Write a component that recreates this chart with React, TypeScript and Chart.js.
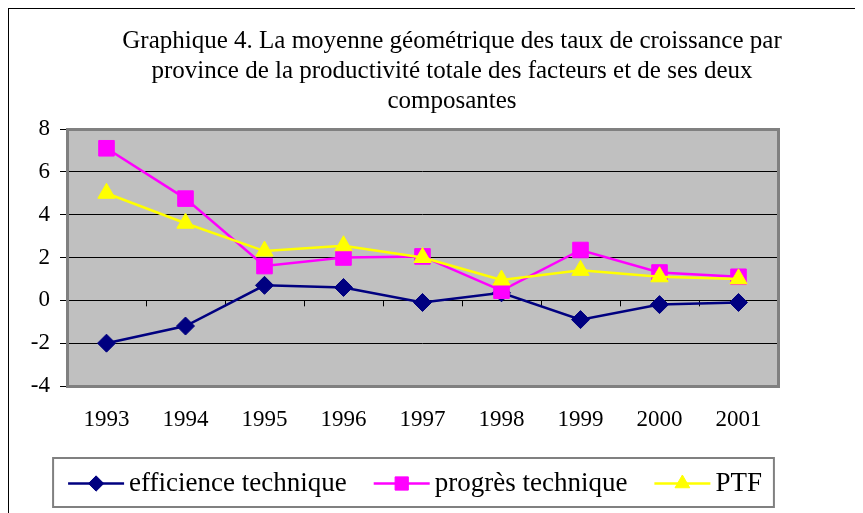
import React, { useEffect, useRef } from "react";
import { Chart, registerables } from "chart.js";
import { drawPoint } from "chart.js/helpers";

Chart.register(...registerables);

const years = ["1993", "1994", "1995", "1996", "1997", "1998", "1999", "2000", "2001"];
const efficience = [-2.0, -1.2, 0.7, 0.6, -0.1, 0.35, -0.9, -0.2, -0.1];
const progres = [7.1, 4.75, 1.6, 2.0, 2.05, 0.45, 2.35, 1.3, 1.1];
const ptf = [5.0, 3.6, 2.3, 2.55, 2.0, 0.95, 1.4, 1.1, 1.0];
const seriesNames = ["efficience technique", "progrès technique", "PTF"];
const titleLines = [
  "Graphique 4. La moyenne géométrique des taux de croissance par",
  "province de la productivité totale des facteurs et de ses deux",
  "composantes",
];
const yMin = -4;
const yMax = 8;
const yStep = 2;

const FONT = "'Liberation Serif', 'Times New Roman', Times, serif";

export default function App() {
  const ref = useRef<HTMLCanvasElement>(null);

  useEffect(() => {
    const canvas = ref.current!;

    const decor = {
      id: "decor",
      beforeDraw(chart: any) {
        const { ctx, chartArea: a } = chart;
        ctx.save();
        ctx.fillStyle = "#ffffff";
        ctx.fillRect(0, 0, chart.width, chart.height);
        // outer frame (top + left visible)
        ctx.strokeStyle = "#000000";
        ctx.lineWidth = 2;
        ctx.beginPath();
        ctx.moveTo(0, chart.height);
        ctx.lineTo(0, 0);
        ctx.lineTo(chart.width, 0);
        ctx.stroke();
        // plot background
        ctx.fillStyle = "#c0c0c0";
        ctx.fillRect(a.left, a.top, a.right - a.left, a.bottom - a.top);
        // title
        ctx.fillStyle = "#000000";
        ctx.font = `25px ${FONT}`;
        ctx.textAlign = "center";
        ctx.textBaseline = "middle";
        titleLines.forEach((t, i) => ctx.fillText(t, 444, 33 + i * 30));
        ctx.restore();
      },
      beforeDatasetsDraw(chart: any) {
        const { ctx, chartArea: a } = chart;
        const xs = chart.scales.x;
        const ys = chart.scales.y;
        ctx.save();
        // tick marks at category boundaries along zero line
        const y0 = ys.getPixelForValue(0);
        ctx.strokeStyle = "#000000";
        ctx.lineWidth = 1;
        ctx.beginPath();
        for (let i = 0; i <= years.length; i++) {
          const x = Math.round(xs.getPixelForValue(i - 0.5)) + 0.5;
          ctx.moveTo(x, y0);
          ctx.lineTo(x, y0 + 6);
        }
        ctx.stroke();
        // plot border
        ctx.strokeStyle = "#808080";
        ctx.lineWidth = 3;
        ctx.strokeRect(a.left + 0.5, a.top + 0.5, a.right - a.left, a.bottom - a.top);
        ctx.restore();
      },
      afterDraw(chart: any) {
        const { ctx } = chart;
        ctx.save();
        ctx.font = `27px ${FONT}`;
        ctx.textBaseline = "middle";
        ctx.textAlign = "left";
        const lineLen = 56;
        const gapLT = 5;
        const gapItem = 27;
        const padL = 15;
        const padR = 12;
        const widths = seriesNames.map((n) => ctx.measureText(n).width);
        let total = padL + padR;
        widths.forEach((w, i) => {
          total += lineLen + gapLT + w + (i < widths.length - 1 ? gapItem : 0);
        });
        const boxLeft = 405.5 - total / 2;
        const boxTop = 450;
        const boxH = 49;
        const cy = boxTop + boxH / 2 + 1;
        ctx.strokeStyle = "#808080";
        ctx.lineWidth = 2;
        ctx.strokeRect(boxLeft, boxTop, total, boxH);
        let x = boxLeft + padL;
        chart.data.datasets.forEach((ds: any, i: number) => {
          ctx.strokeStyle = ds.borderColor;
          ctx.lineWidth = ds.borderWidth;
          ctx.beginPath();
          ctx.moveTo(x, cy);
          ctx.lineTo(x + lineLen, cy);
          ctx.stroke();
          ctx.fillStyle = ds.backgroundColor;
          ctx.strokeStyle = ds.borderColor;
          ctx.lineWidth = 1;
          drawPoint(ctx, { pointStyle: ds.pointStyle, radius: ds.pointRadius * 0.85, rotation: 0, borderWidth: 1 }, x + lineLen / 2, cy);
          x += lineLen + gapLT;
          ctx.fillStyle = "#000000";
          ctx.fillText(seriesNames[i], x, cy);
          x += widths[i] + gapItem;
        });
        ctx.restore();
      },
    };

    const chart = new Chart(canvas, {
      type: "line",
      data: {
        labels: years,
        datasets: [
          {
            label: seriesNames[0],
            data: efficience,
            borderColor: "#000080",
            backgroundColor: "#000080",
            pointStyle: "rectRot",
            pointRadius: 9,
            pointBorderWidth: 1,
            borderWidth: 2.5,
            order: 2,
          },
          {
            label: seriesNames[1],
            data: progres,
            borderColor: "#ff00ff",
            backgroundColor: "#ff00ff",
            pointStyle: "rect",
            pointRadius: 11,
            pointBorderWidth: 1,
            borderWidth: 2.5,
            order: 1,
          },
          {
            label: seriesNames[2],
            data: ptf,
            borderColor: "#ffff00",
            backgroundColor: "#ffff00",
            pointStyle: "triangle",
            pointRadius: 10,
            pointBorderWidth: 1,
            borderWidth: 2.5,
            order: 0,
          },
        ],
      },
      options: {
        responsive: false,
        animation: false,
        events: [],
        layout: { padding: { left: 0, right: 85, top: 121, bottom: 67 } },
        plugins: {
          legend: { display: false },
          title: { display: false },
          tooltip: { enabled: false },
        },
        scales: {
          x: {
            offset: true,
            grid: { display: false, drawTicks: false, tickLength: 0 },
            border: { display: false },
            ticks: {
              color: "#000000",
              font: { family: FONT, size: 23 },
              padding: 20,
              maxRotation: 0,
              autoSkip: false,
            },
            afterFit: (s: any) => {
              s.height = 60;
            },
          },
          y: {
            min: yMin,
            max: yMax,
            ticks: {
              stepSize: yStep,
              color: "#000000",
              font: { family: FONT, size: 23 },
              padding: 10,
            },
            grid: { color: "#000000", lineWidth: 1, tickLength: 7, drawTicks: true },
            border: { display: false },
            afterFit: (s: any) => {
              s.width = 59;
            },
          },
        },
      },
      plugins: [decor],
    } as any);

    return () => chart.destroy();
  }, []);

  return <canvas ref={ref} width={855} height={505} style={{ display: "block" }} />;
}
